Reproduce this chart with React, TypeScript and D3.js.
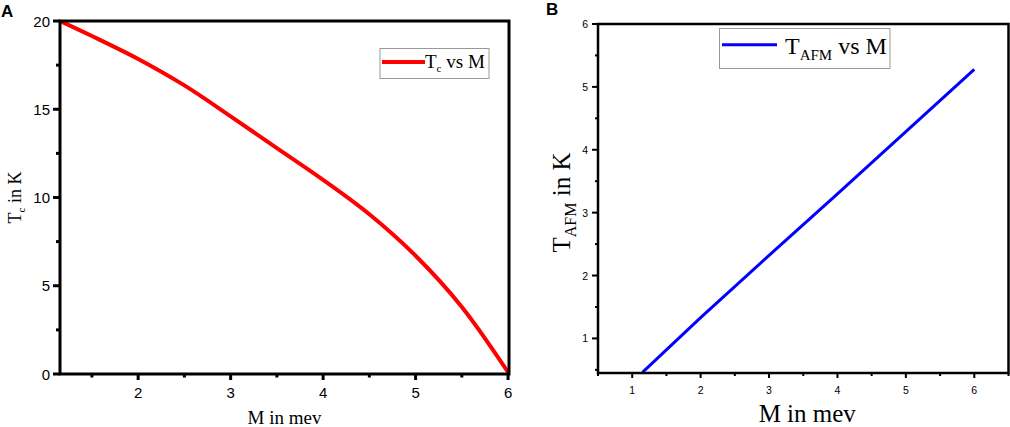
import React from "react";
import * as d3 from "d3";

// Panel A data: Tc vs M
const mA = [1.155, 1.5, 2, 2.5, 3, 3.5, 4, 4.5, 5, 5.5, 6.0];
const tcA = [20, 19.15, 17.85, 16.35, 14.6, 12.8, 11.0, 9.05, 6.7, 3.8, 0.1];
// Panel B data: TAFM vs M
const mB = [1.15, 2, 3, 4, 5, 6];
const tafmB = [0.46, 1.33, 2.32, 3.3, 4.29, 5.28];

const xTicksA = [2, 3, 4, 5, 6];
const xMinorA = [1.5, 2.5, 3.5, 4.5, 5.5];
const yTicksA = [0, 5, 10, 15, 20];
const yMinorA = [2.5, 7.5, 12.5, 17.5];

const xTicksB = [1, 2, 3, 4, 5, 6];
const xMinorB = [0.5, 1.5, 2.5, 3.5, 4.5, 5.5, 6.5];
const yTicksB = [1, 2, 3, 4, 5, 6];
const yMinorB = [0.5, 1.5, 2.5, 3.5, 4.5, 5.5];

const SANS = "'Liberation Sans', Arial, sans-serif";
const SERIF = "'Liberation Serif', 'Times New Roman', serif";

export default function App() {
  // Panel A scales
  const xA = d3.scaleLinear().domain([1.155, 6.01]).range([60, 509]);
  const yA = d3.scaleLinear().domain([0, 20]).range([374, 21]);
  // Panel B scales
  const xB = d3.scaleLinear().domain([0.5, 6.5]).range([598, 1008.5]);
  const yB = d3.scaleLinear().domain([0.45, 6]).range([373, 24]);

  const lineA = d3
    .line<number>()
    .x((_, i) => xA(mA[i]))
    .y((d) => yA(d))
    .curve(d3.curveCatmullRom.alpha(0.5))(tcA) as string;
  const lineB = d3
    .line<number>()
    .x((_, i) => xB(mB[i]))
    .y((d) => yB(d))(tafmB) as string;

  const [ax0, ax1] = xA.range();
  const [ay0, ay1] = yA.range();
  const [bx0, bx1] = xB.range();
  const [by0, by1] = yB.range();

  return (
    <svg
      width={1010}
      height={427}
      style={{ position: "absolute", left: 0, top: 0, background: "#fff" }}
    >
      <rect x={0} y={0} width={1010} height={427} fill="#fff" />
      {/* Panel labels */}
      <text x={1} y={17} fontFamily={SANS} fontWeight="bold" fontSize={17}>
        A
      </text>
      <text x={546} y={15} fontFamily={SANS} fontWeight="bold" fontSize={17}>
        B
      </text>

      {/* ===== Panel A ===== */}
      <clipPath id="clipA">
        <rect x={ax0} y={ay1} width={ax1 - ax0} height={ay0 - ay1} />
      </clipPath>
      <path d={lineA} fill="none" stroke="#ff0000" strokeWidth={4} clipPath="url(#clipA)" />
      <rect
        x={ax0}
        y={ay1}
        width={ax1 - ax0}
        height={ay0 - ay1}
        fill="none"
        stroke="#000"
        strokeWidth={3}
      />
      {xTicksA.map((t) => (
        <g key={"xa" + t}>
          <line x1={xA(t)} x2={xA(t)} y1={ay0} y2={ay0 + 6} stroke="#000" strokeWidth={3} />
          <text
            x={xA(t)}
            y={398}
            textAnchor="middle"
            fontFamily={SANS}
            fontSize={15}
          >
            {t}
          </text>
        </g>
      ))}
      {xMinorA.map((t) => (
        <line key={"xam" + t} x1={xA(t)} x2={xA(t)} y1={ay0} y2={ay0 + 3.5} stroke="#000" strokeWidth={3} />
      ))}
      {yTicksA.map((t) => (
        <g key={"ya" + t}>
          <line x1={ax0 - 7} x2={ax0} y1={yA(t)} y2={yA(t)} stroke="#000" strokeWidth={3} />
          <text
            x={50}
            y={yA(t) + 5.5}
            textAnchor="end"
            fontFamily={SANS}
            fontSize={15}
          >
            {t}
          </text>
        </g>
      ))}
      {yMinorA.map((t) => (
        <line key={"yam" + t} x1={ax0 - 4} x2={ax0} y1={yA(t)} y2={yA(t)} stroke="#000" strokeWidth={3} />
      ))}
      <text
        x={(ax0 + ax1) / 2 + 0}
        y={424}
        textAnchor="middle"
        fontFamily={SERIF}
        fontSize={19}
      >
        M in mev
      </text>
      <text
        transform={`translate(21, ${(ay0 + ay1) / 2 + 0}) rotate(-90)`}
        textAnchor="middle"
        fontFamily={SERIF}
        fontSize={18}
      >
        T<tspan fontSize={11} dy={4}>c</tspan>
        <tspan dy={-4}> in K</tspan>
      </text>
      {/* Legend A */}
      <rect x={380} y={48.5} width={109} height={30} fill="#fff" stroke="#999" strokeWidth={1} />
      <line x1={382} x2={425} y1={62} y2={62} stroke="#ff0000" strokeWidth={4} />
      <text x={425} y={68} fontFamily={SERIF} fontSize={19}>
        T<tspan fontSize={11} dy={4}>c</tspan>
        <tspan dy={-4}> vs M</tspan>
      </text>

      {/* ===== Panel B ===== */}
      <clipPath id="clipB">
        <rect x={bx0} y={by1} width={bx1 - bx0} height={by0 - by1} />
      </clipPath>
      <path d={lineB} fill="none" stroke="#0000ff" strokeWidth={3} clipPath="url(#clipB)" />
      <rect
        x={bx0}
        y={by1}
        width={bx1 - bx0}
        height={by0 - by1}
        fill="none"
        stroke="#000"
        strokeWidth={2.5}
      />
      {xTicksB.map((t) => (
        <g key={"xb" + t}>
          <line x1={xB(t)} x2={xB(t)} y1={by0} y2={by0 + 5} stroke="#000" strokeWidth={2} />
          <text x={xB(t)} y={394} textAnchor="middle" fontFamily={SANS} fontSize={10.5}>
            {t}
          </text>
        </g>
      ))}
      {xMinorB.map((t) => (
        <line key={"xbm" + t} x1={xB(t)} x2={xB(t)} y1={by0} y2={by0 + 3} stroke="#000" strokeWidth={2} />
      ))}
      {yTicksB.map((t) => (
        <g key={"yb" + t}>
          <line x1={bx0 - 6} x2={bx0} y1={yB(t)} y2={yB(t)} stroke="#000" strokeWidth={2} />
          <text x={588} y={yB(t) + 4} textAnchor="end" fontFamily={SANS} fontSize={10.5}>
            {t}
          </text>
        </g>
      ))}
      {yMinorB.map((t) => (
        <line key={"ybm" + t} x1={bx0 - 3} x2={bx0} y1={yB(t)} y2={yB(t)} stroke="#000" strokeWidth={2} />
      ))}
      <text
        x={(bx0 + bx1) / 2 + 4}
        y={422}
        textAnchor="middle"
        fontFamily={SERIF}
        fontSize={25}
      >
        M in mev
      </text>
      <text
        transform={`translate(570, ${(by0 + by1) / 2 + 4}) rotate(-90)`}
        textAnchor="middle"
        fontFamily={SERIF}
        fontSize={25}
      >
        T<tspan fontSize={16} dy={6}>AFM</tspan>
        <tspan dy={-6}> in K</tspan>
      </text>
      {/* Legend B */}
      <rect x={719.5} y={28.5} width={170.5} height={40} fill="#fff" stroke="#999" strokeWidth={1} />
      <line x1={722} x2={777} y1={44.7} y2={44.7} stroke="#0000ff" strokeWidth={3} />
      <text x={785} y={54} fontFamily={SERIF} fontSize={24}>
        T<tspan fontSize={15} dy={6}>AFM</tspan>
        <tspan dy={-6}> vs M</tspan>
      </text>
    </svg>
  );
}
